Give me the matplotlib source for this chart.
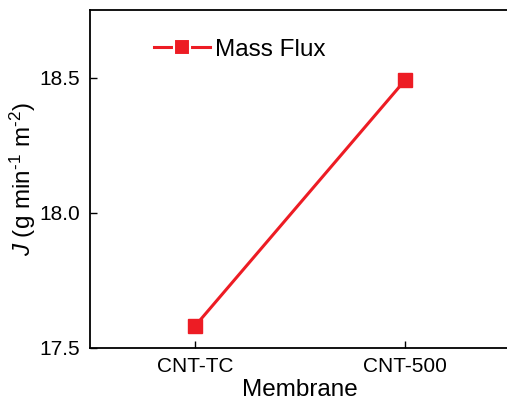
import matplotlib
matplotlib.use('Agg')
import matplotlib.pyplot as plt
from matplotlib.lines import Line2D

# data
membranes = ['CNT-TC', 'CNT-500']
mass_flux = [17.58, 18.49]

plt.rcParams['font.family'] = ['Liberation Sans', 'DejaVu Sans']
plt.rcParams['mathtext.fontset'] = 'custom'
plt.rcParams['mathtext.rm'] = 'Liberation Sans'
plt.rcParams['mathtext.it'] = 'Liberation Sans:italic'

red = '#ed1c24'

fig = plt.figure(figsize=(5.07, 4.03), dpi=100)
# right edge of the axes is cropped off in the reference
ax = fig.add_axes([90 / 507, 55.3 / 403, 420 / 507, 337.7 / 403])

x = list(range(len(membranes)))
ax.plot(x, mass_flux, color=red, lw=2.2, marker='s', ms=9.5)

ax.set_xlim(-0.5, 1.5)
ax.set_ylim(17.5, 18.75)
ax.set_xticks(x)
ax.set_xticklabels(membranes)
ax.set_yticks([17.5, 18.0, 18.5])
ax.set_yticklabels(['17.5', '18.0', '18.5'])

ax.tick_params(direction='in', length=5, width=1, labelsize=15, pad=7)
for s in ax.spines.values():
    s.set_linewidth(1.3)
ax.spines['right'].set_visible(False)

ax.set_xlabel('Membrane', fontsize=17.5, labelpad=2)
ax.set_ylabel(r'$J$ (g min$^{\text{-}1}$ m$^{\text{-}2}$)', fontsize=17.5,
              labelpad=1)

# legend handle with small gaps around the marker, Origin style
handle = Line2D([], [], color=red, lw=2.2, marker='s', ms=11,
                markeredgecolor='white', markeredgewidth=1.5)
ax.legend([handle], ['Mass Flux'], loc='upper left',
          bbox_to_anchor=(0.1, 0.98), frameon=False,
          fontsize=17.5, handlelength=2.3, handletextpad=0.2)

fig.savefig('out.png', dpi=100)
